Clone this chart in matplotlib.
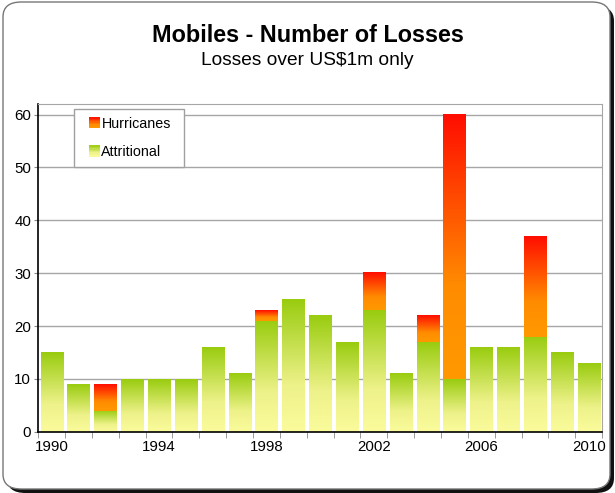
import numpy as np
import matplotlib.pyplot as plt
from matplotlib.colors import LinearSegmentedColormap
from matplotlib.patches import FancyBboxPatch, Rectangle
from matplotlib.legend_handler import HandlerBase

plt.rcParams['font.family'] = ['Liberation Sans', 'DejaVu Sans']

years = list(range(1990, 2011))
attritional = [15, 9, 4, 10, 10, 10, 16, 11, 21, 25, 22, 17, 23, 11, 17, 10, 16, 16, 18, 15, 13]
hurricanes = [0, 0, 5, 0, 0, 0, 0, 0, 2, 0, 0, 0, 7, 0, 5, 50, 0, 0, 19, 0, 0]
year_labels = ['1990', '1994', '1998', '2002', '2006', '2010']

green_cmap = LinearSegmentedColormap.from_list(
    'att', [(0, '#fbfb9c'), (0.35, '#eef28a'), (1, '#99cc0f')])
red_cmap = LinearSegmentedColormap.from_list(
    'hur', [(0, '#ff9900'), (0.35, '#ff8c00'), (1, '#ff0d00')])


def fill_gradient(ax, bars, cmap):
    grad = np.linspace(0, 1, 256).reshape(-1, 1)
    for b in bars:
        if b.get_height() <= 0:
            continue
        x0, y0 = b.get_x(), b.get_y()
        w, h = b.get_width(), b.get_height()
        ax.imshow(grad, cmap=cmap, origin='lower', aspect='auto',
                  extent=[x0, x0 + w, y0, y0 + h], zorder=2)
        b.set_facecolor('none')
        b.set_edgecolor('none')


class GradHandler(HandlerBase):
    # small square with vertical gradient, at the right end of the handle box
    def __init__(self, cmap):
        super().__init__()
        self.cmap = cmap

    def create_artists(self, legend, orig_handle, xdescent, ydescent,
                       width, height, fontsize, trans):
        n = 8
        side = 8.0
        x0 = -xdescent + width - side
        y0 = -ydescent + (height - side) / 2
        arts = []
        for i in range(n):
            r = Rectangle((x0, y0 + side * i / n), side, side / n + 0.2,
                          facecolor=self.cmap((i + 0.5) / n), edgecolor='none',
                          transform=trans)
            arts.append(r)
        return arts


fig = plt.figure(figsize=(6.15, 4.93), dpi=100)

# outer rounded frame with shadow
W, H = 615.0, 493.0
shadow = FancyBboxPatch((7 / W, 0.0), 607 / W, 487 / H,
                        boxstyle='round,pad=0,rounding_size=0.03',
                        transform=fig.transFigure, facecolor='#111111', edgecolor='none', zorder=-2)
frame = FancyBboxPatch((3 / W, 4 / H), 607 / W, 487 / H,
                       boxstyle='round,pad=0,rounding_size=0.03',
                       transform=fig.transFigure, facecolor='white', edgecolor='#777777',
                       linewidth=1.0, zorder=-1)
fig.patches.extend([shadow, frame])

ax = fig.add_axes([0.062, 0.124, 0.917, 0.665])
ax.set_facecolor('none')

x = np.arange(len(years))
b1 = ax.bar(x, attritional, width=0.82, zorder=2)
b2 = ax.bar(x, hurricanes, bottom=attritional, width=0.82, zorder=2)
fill_gradient(ax, b1, green_cmap)
fill_gradient(ax, b2, red_cmap)

ax.set_xlim(-0.5, len(years) - 0.5)
ax.set_ylim(0, 62)
ax.set_yticks(range(0, 61, 10))
ax.yaxis.grid(True, color='#a6a6a6', linewidth=1.0, zorder=0)
ax.set_axisbelow(True)

ax.set_xticks([years.index(int(y)) for y in year_labels])
ax.set_xticklabels(year_labels)
ax.set_xticks(np.arange(-0.5, len(years)), minor=True)
ax.tick_params(axis='x', which='major', length=0, labelsize=10.8, pad=6)
ax.tick_params(axis='x', which='minor', length=4, direction='out', color='#888888')
ax.tick_params(axis='y', length=3, labelsize=10.8, pad=2, color='#888888')

for s in ['top', 'right']:
    ax.spines[s].set_color('#a6a6a6')
for s in ['left', 'bottom']:
    ax.spines[s].set_color('black')
    ax.spines[s].set_linewidth(1.2)

h1 = Rectangle((0, 0), 1, 1)
h2 = Rectangle((0, 0), 1, 1)
leg = ax.legend([h2, h1], ['Hurricanes', 'Attritional'],
                handler_map={h2: GradHandler(red_cmap), h1: GradHandler(green_cmap)},
                loc='upper left', bbox_to_anchor=(0.064, 0.985, 0.195, 0), mode='expand',
                borderaxespad=0, fancybox=False, framealpha=1, edgecolor='#a0a0a0',
                fontsize=10.3, handlelength=1.25, handleheight=0.7, handletextpad=0.1,
                labelspacing=1.0, borderpad=0.55)
leg.get_frame().set_linewidth(1.0)
leg.set_zorder(5)

fig.text(0.5, 0.928, 'Mobiles - Number of Losses', ha='center', va='center',
         fontsize=16.8, fontweight='bold')
fig.text(0.5, 0.877, 'Losses over US$1m only', ha='center', va='center', fontsize=13.8)

fig.savefig('out.png', dpi=100)
